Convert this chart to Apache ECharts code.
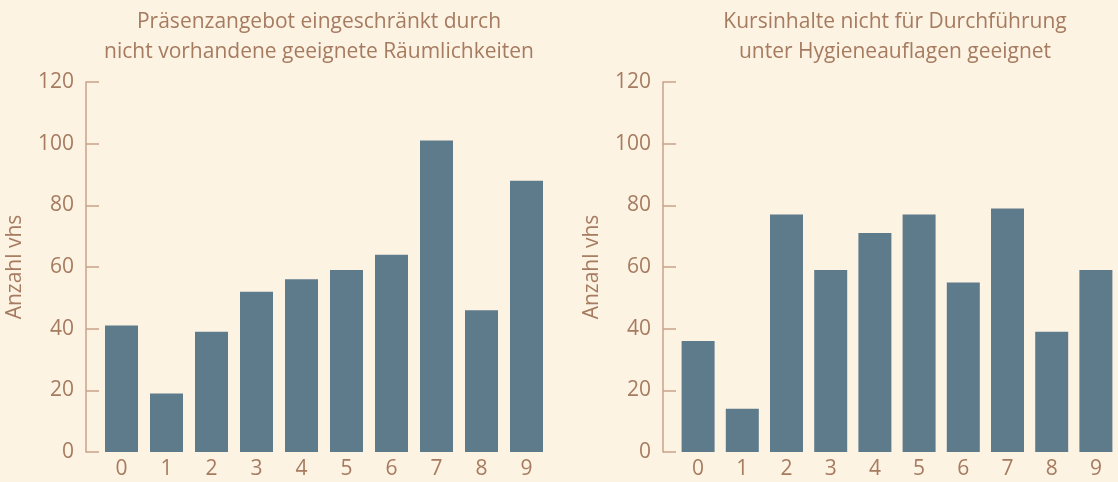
<!DOCTYPE html>
<html>
<head>
<meta charset="utf-8">
<style>
  html, body { margin: 0; padding: 0; background: #fcf3e3; }
  #chart { width: 1118px; height: 482px; }
</style>
<script src="https://cdn.jsdelivr.net/npm/echarts@6/dist/echarts.min.js"></script>
</head>
<body>
<div id="chart"></div>
<script>
const categories = ['0', '1', '2', '3', '4', '5', '6', '7', '8', '9']
const raeumlichkeiten = [41, 19, 39, 52, 56, 59, 64, 101, 46, 88]
const hygieneauflagen = [36, 14, 77, 59, 71, 77, 55, 79, 39, 59]
const titles = [
  'Präsenzangebot eingeschränkt durch\nnicht vorhandene geeignete Räumlichkeiten',
  'Kursinhalte nicht für Durchführung\nunter Hygieneauflagen geeignet'
]

const textColor = '#a67b60'
const lineColor = '#c9a38a'
const barColor = '#5e7b8c'
const font = 'Open Sans'

const chart = echarts.init(document.getElementById('chart'))

function yAxis(gridIndex) {
  return {
    type: 'value',
    gridIndex: gridIndex,
    min: 0,
    max: 120,
    interval: 20,
    offset: 13,
    name: 'Anzahl vhs',
    nameLocation: 'middle',
    nameGap: 60,
    nameTextStyle: { color: textColor, fontSize: 21, fontFamily: font },
    axisLine: { show: true, lineStyle: { color: lineColor, width: 1.5 } },
    axisTick: { show: true, inside: true, length: 13, lineStyle: { color: lineColor, width: 1.5 } },
    splitLine: { show: false },
    axisLabel: { color: textColor, fontSize: 21, fontFamily: font, margin: 12 }
  }
}

function xAxis(gridIndex) {
  return {
    type: 'category',
    gridIndex: gridIndex,
    data: categories,
    axisLine: { show: false },
    axisTick: { show: false },
    axisLabel: { color: textColor, fontSize: 21, fontFamily: font, margin: 7 }
  }
}

chart.setOption({
  backgroundColor: '#fcf3e3',
  animation: false,
  title: titles.map((t, i) => ({
    text: t,
    left: i === 0 ? 314 : 890,
    top: 2,
    textAlign: 'center',
    textStyle: {
      color: textColor,
      fontSize: 21,
      fontWeight: 'normal',
      fontFamily: font,
      lineHeight: 30
    }
  })),
  grid: [
    { left: 99, width: 450, top: 82, height: 370 },
    { left: 676, width: 450, top: 82, height: 370 }
  ],
  xAxis: [xAxis(0), xAxis(1)],
  yAxis: [yAxis(0), yAxis(1)],
  series: [
    {
      type: 'bar',
      xAxisIndex: 0,
      yAxisIndex: 0,
      barWidth: 33,
      itemStyle: { color: barColor },
      data: raeumlichkeiten
    },
    {
      type: 'bar',
      xAxisIndex: 1,
      yAxisIndex: 1,
      barWidth: 33,
      itemStyle: { color: barColor },
      data: hygieneauflagen
    }
  ]
})
</script>
</body>
</html>
